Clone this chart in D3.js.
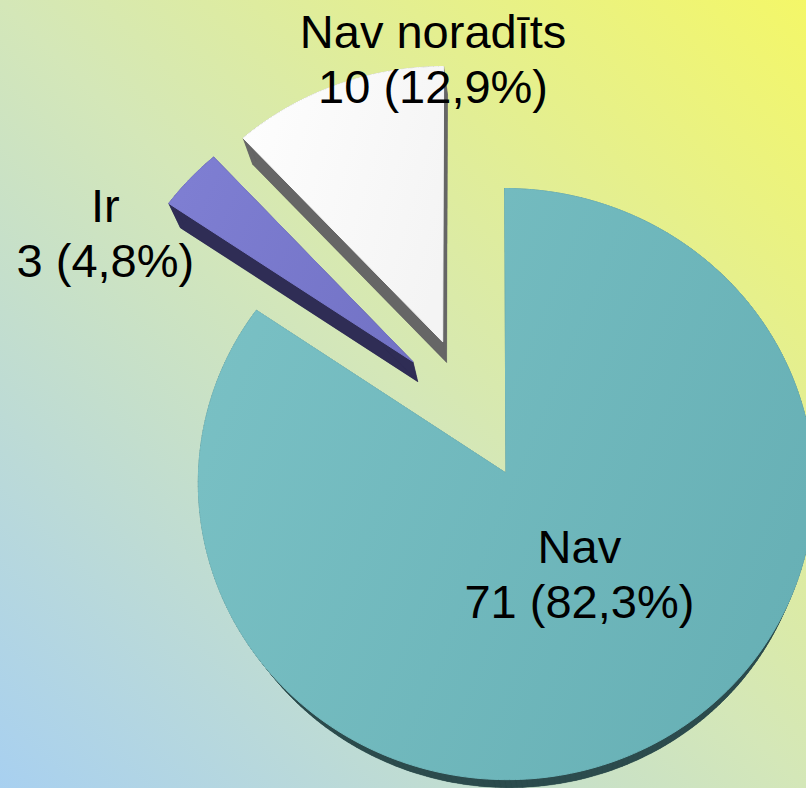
<!DOCTYPE html>
<html>
<head>
<meta charset="utf-8">
<script src="https://cdn.jsdelivr.net/npm/d3@7"></script>
<style>
  html, body { margin: 0; padding: 0; background: #fff; }
  svg { display: block; }
</style>
</head>
<body>
<script>
// ---- data ----
const categories = ["Nav", "Ir", "Nav noradīts"];
const counts = [71, 3, 10];
const percents = [82.3, 4.8, 12.9];
const topColors = [["#79c0c4", "#67b0b5"], ["#7e7ed2", "#7373c6"], ["#fdfdfd", "#f4f4f4"]];
const sideColors = ["#2c4b4d", "#2f2d55", "#666666"];

// ---- layout ----
const W = 806, H = 788;
const S = 305, C = 0.952, K = 0.037;        // projection of the pie plane
const CX = 470.2, CY = 408.6;               // projected pie centre
const EXPLODE = 0.249;                      // explode distance (radius units)
const VP = [580, 1060], DEPTH = 0.0286;     // extrusion towards vanishing point
const labelR = [0.41, 1.13, 1.03];
const labelShift = [-7, -17, 19.4];          // degrees
const FONT = 47, LINE = 55;

const svg = d3.select("body").append("svg").attr("width", W).attr("height", H);
const defs = svg.append("defs");

const bg = defs.append("linearGradient").attr("id", "bg")
  .attr("x1", 0).attr("y1", 1).attr("x2", 1).attr("y2", 0);
bg.append("stop").attr("offset", 0).attr("stop-color", "#a8d0f0");
bg.append("stop").attr("offset", 0.5).attr("stop-color", "#d4e7b8");
bg.append("stop").attr("offset", 1).attr("stop-color", "#f4f768");
svg.append("rect").attr("width", W).attr("height", H).attr("fill", "url(#bg)");

topColors.forEach((c, i) => {
  const g = defs.append("linearGradient").attr("id", "top" + i)
    .attr("x1", 0).attr("y1", 0.3).attr("x2", 1).attr("y2", 0.7);
  g.append("stop").attr("offset", 0).attr("stop-color", c[0]);
  g.append("stop").attr("offset", 1).attr("stop-color", c[1]);
});

const proj = (u, w) => {
  const s = 1 / (1 + K * w);
  return [CX + S * u * s, CY - S * C * w * s];
};
const extrude = p => [VP[0] + (p[0] - VP[0]) * (1 - DEPTH), VP[1] + (p[1] - VP[1]) * (1 - DEPTH)];

const data = categories.map((c, i) => ({ name: c, count: counts[i], pct: percents[i], i }));
const arcs = d3.pie().sort(null).value(d => d.count).startAngle(0).endAngle(2 * Math.PI)(data);

const line = d3.line().curve(d3.curveLinearClosed);
const layer = svg.append("g");

function outline(a) {
  const m = (a.startAngle + a.endAngle) / 2;
  const ou = EXPLODE * Math.sin(m), ow = EXPLODE * Math.cos(m);
  const n = Math.max(8, Math.ceil((a.endAngle - a.startAngle) / (Math.PI / 180)));
  const pts = [proj(ou, ow)];
  d3.range(n + 1).forEach(k => {
    const t = a.startAngle + (a.endAngle - a.startAngle) * k / n;
    pts.push(proj(ou + Math.sin(t), ow + Math.cos(t)));
  });
  return { pts, ou, ow, m };
}

[2, 1, 0].forEach(idx => {
  const a = arcs[idx];
  const { pts } = outline(a);
  const bottom = pts.map(extrude);
  const g = layer.append("g");
  const side = sideColors[idx];
  g.append("path").attr("d", line(bottom)).attr("fill", side);
  pts.forEach((p, k) => {
    const q = pts[(k + 1) % pts.length];
    g.append("path").attr("d", line([p, q, bottom[(k + 1) % pts.length], bottom[k]]))
      .attr("fill", side).attr("stroke", side).attr("stroke-width", 0.4);
  });
  g.append("path").attr("d", line(pts)).attr("fill", `url(#top${idx})`)
    .attr("stroke", `url(#top${idx})`).attr("stroke-width", 1);
});

// ---- labels ----
const fmt = v => String(v).replace(".", ",");
arcs.forEach((a, idx) => {
  const { ou, ow, m } = outline(a);
  const ang = m + labelShift[idx] * Math.PI / 180;
  const p = proj(ou + labelR[idx] * Math.sin(ang), ow + labelR[idx] * Math.cos(ang));
  const t = svg.append("text")
    .attr("text-anchor", "middle")
    .attr("font-family", "'Liberation Sans', Arial, sans-serif")
    .attr("font-size", FONT)
    .attr("fill", "#000");
  t.append("tspan").attr("x", p[0]).attr("y", p[1] - 11).text(a.data.name);
  t.append("tspan").attr("x", p[0]).attr("y", p[1] - 11 + LINE)
    .text(`${a.data.count} (${fmt(a.data.pct)}%)`);
});
</script>
</body>
</html>
